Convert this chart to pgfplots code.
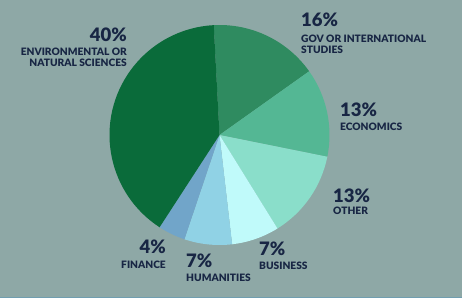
\documentclass[border=0pt]{standalone}
\usepackage{pgfplots}
\usepackage{pgfplotstable}
\pgfplotsset{compat=1.18}
\usepackage{fontspec}
\setmainfont{Lato}
\newfontface\latoblack{Lato Black}
\definecolor{bg}{RGB}{142,168,166}
\definecolor{bgline}{RGB}{112,158,176}
\definecolor{txt}{RGB}{24,38,68}
\definecolor{cenv}{RGB}{10,107,58}
\definecolor{cgov}{RGB}{47,139,96}
\definecolor{cecon}{RGB}{84,183,148}
\definecolor{cother}{RGB}{138,222,202}
\definecolor{cbus}{RGB}{192,250,250}
\definecolor{chum}{RGB}{144,210,229}
\definecolor{cfin}{RGB}{113,165,201}
\pgfplotstableread{
label value color
Gov 16 cgov
Econ 13 cecon
Other 13 cother
Business 7 cbus
Humanities 7 chum
Finance 4 cfin
Env 40 cenv
}\piedata
\newcommand\pct{\fontsize{18.5}{18}\selectfont\latoblack}
\newcommand\lab{\fontsize{10.2}{10}\selectfont\latoblack}
\begin{document}
\begin{tikzpicture}
\begin{axis}[width=462pt,height=298pt,scale only axis,
  xmin=0,xmax=462,ymin=0,ymax=298,hide axis,clip=false]
\addplot[draw=none] coordinates {(0,0) (462,298)};
\pgfplotsextra{
  \fill[bg] (axis cs:0,0) rectangle (axis cs:462,298);
  \fill[bgline] (axis cs:0,0) rectangle (axis cs:462,1.5);
  \def\ang{93}
  \pgfplotsforeachungrouped \i in {0,...,6}{
    \pgfplotstablegetelem{\i}{value}\of\piedata \let\v\pgfplotsretval
    \pgfplotstablegetelem{\i}{color}\of\piedata \let\c\pgfplotsretval
    \pgfmathsetmacro\endang{\ang-3.6*\v}
    \fill[color=\c] (axis cs:219.5,163) -- ++(\ang:110pt)
      arc[start angle=\ang,end angle=\endang,radius=110pt] -- cycle;
    \global\let\ang\endang
  }
  \begin{scope}[every node/.style={text=txt,inner sep=0pt}]
  \node[anchor=base east,font=\pct] at (axis cs:127,256.8) {40\%};
  \node[anchor=base east,font=\lab] at (axis cs:127,242.3) {ENVIRONMENTAL OR};
  \node[anchor=base east,font=\lab] at (axis cs:127,232) {NATURAL SCIENCES};
  \node[anchor=base west,font=\pct] at (axis cs:301,271.2) {16\%};
  \node[anchor=base west,font=\lab] at (axis cs:301,255.3) {GOV OR INTERNATIONAL};
  \node[anchor=base west,font=\lab] at (axis cs:301,244.7) {STUDIES};
  \node[anchor=base west,font=\pct] at (axis cs:340,181.8) {13\%};
  \node[anchor=base west,font=\lab] at (axis cs:340,167.3) {ECONOMICS};
  \node[anchor=base west,font=\pct] at (axis cs:333,95.8) {13\%};
  \node[anchor=base west,font=\lab] at (axis cs:333,83.5) {OTHER};
  \node[anchor=base west,font=\pct] at (axis cs:259,42.5) {7\%};
  \node[anchor=base west,font=\lab] at (axis cs:259,28.7) {BUSINESS};
  \node[anchor=base west,font=\pct] at (axis cs:186,30.2) {7\%};
  \node[anchor=base west,font=\lab] at (axis cs:186,16.3) {HUMANITIES};
  \node[anchor=base east,font=\pct] at (axis cs:166,44.5) {4\%};
  \node[anchor=base east,font=\lab] at (axis cs:166,29.7) {FINANCE};
  \end{scope}
}
\end{axis}
\end{tikzpicture}
\end{document}
